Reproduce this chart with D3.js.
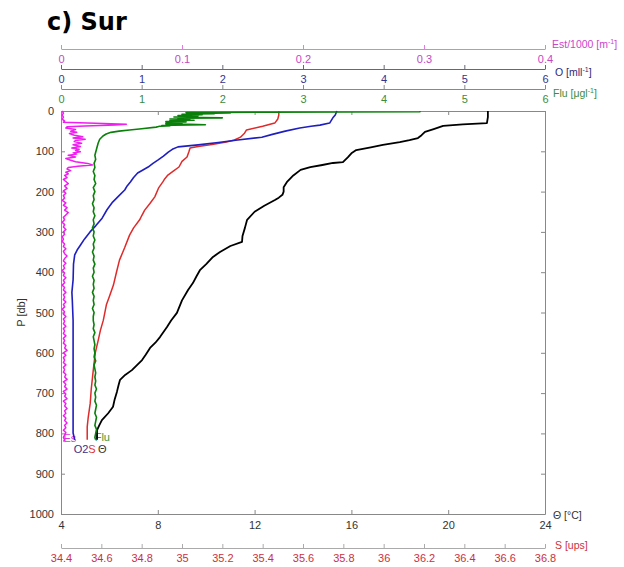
<!DOCTYPE html>
<html>
<head>
<meta charset="utf-8">
<script src="https://cdn.jsdelivr.net/npm/d3@7"></script>
<style>
  html, body { margin: 0; padding: 0; background: #fff; }
  svg { display: block; }
  text { font-family: "Liberation Sans", Arial, sans-serif; }
</style>
</head>
<body>
<svg id="chart" width="624" height="567"></svg>
<script>
// Profile c) Sur: potential temperature, salinity, oxygen, fluorescence and
// scattering (Est) against pressure, each on its own horizontal axis.

// ---- tick labels ----
const pTicks   = [0, 100, 200, 300, 400, 500, 600, 700, 800, 900, 1000];
const tTicks   = [4, 8, 12, 16, 20, 24];
const sTicks   = [34.4, 34.6, 34.8, 35, 35.2, 35.4, 35.6, 35.8, 36, 36.2, 36.4, 36.6, 36.8];
const oTicks   = [0, 1, 2, 3, 4, 5, 6];
const fluTicks = [0, 1, 2, 3, 4, 5, 6];
const estTicks = [0, 0.1, 0.2, 0.3, 0.4];

// ---- series: [pressure (db), value] ----
const theta = [
  [0,21.64],[15,21.64],[30,21.6],[33,20.6],[37,19.79],[45,19.4],[52,19.04],[60,18.9],
  [67,18.75],[72,18.4],[77,18.0],[84,17.3],[90,16.8],[97,16.2],[105,16.0],[115,15.85],
  [127,15.65],[129,15.24],[134,14.8],[139,14.3],[146,13.9],[160,13.6],[175,13.35],
  [189,13.2],[200,13.2],[208,13.15],[215,13.0],[221,12.84],[235,12.4],[250,12.0],
  [270,11.69],[290,11.6],[310,11.5],[325,11.48],[335,11.0],[350,10.57],[362,10.28],
  [380,10.0],[395,9.74],[410,9.6],[427,9.45],[444,9.25],[470,9.0],[501,8.79],[520,8.55],
  [536,8.38],[561,8.09],[575,7.9],[588,7.68],[605,7.5],[618,7.35],[630,7.15],[643,6.93],
  [655,6.65],[667,6.44],[680,6.38],[697,6.31],[715,6.22],[734,6.15],[750,5.95],
  [767,5.69],[780,5.58],[792,5.49],[816,5.49]
];

const salinity = [
  [0,35.48],[10,35.48],[20,35.475],[30,35.46],[38,35.40],[47,35.32],[55,35.31],[65,35.29],
  [72,35.26],[77,35.22],[81,35.17],[84,35.14],[88,35.08],[92,35.04],[100,35.035],
  [114,35.025],[125,35.0],[139,34.985],[150,34.955],[159,34.93],[168,34.915],[176,34.905],
  [190,34.885],[213,34.865],[230,34.84],[246,34.815],[260,34.80],[270,34.79],[290,34.76],
  [308,34.74],[340,34.715],[370,34.69],[400,34.675],[432,34.66],[460,34.64],[481,34.625],
  [519,34.61],[545,34.595],[568,34.585],[600,34.57],[643,34.56],[690,34.55],[725,34.545],
  [760,34.535],[784,34.53],[816,34.53]
];

const oxygen = [
  [0,3.42],[10,3.40],[17,3.37],[30,3.33],[35,3.21],[38,3.10],[42,2.96],[50,2.78],[58,2.62],
  [65,2.49],[72,2.19],[78,1.95],[84,1.70],[89,1.45],[95,1.38],[102,1.33],[112,1.27],
  [122,1.20],[130,1.14],[139,1.08],[147,1.01],[154,0.95],[165,0.90],[176,0.86],[186,0.82],
  [196,0.79],[210,0.72],[226,0.64],[245,0.57],[266,0.51],[285,0.43],[300,0.36],[318,0.29],
  [333,0.24],[345,0.20],[357,0.17],[380,0.155],[419,0.15],[450,0.135],[469,0.14],
  [520,0.15],[593,0.15],[650,0.15],[717,0.15],[760,0.15],[799,0.15],[816,0.17]
];

const fluor = [
  [0,4.45],[2,4.45],[3,2.6],[4,1.55],[5,2.1],[6,1.7],[7,1.9],[8,1.5],[9,1.75],[10,1.6],
  [11,1.45],[12,1.7],[13,1.5],[14,1.65],[15,1.4],[16,1.75],[17,2.0],[18,1.45],[19,1.6],
  [20,1.35],[21,1.55],[22,1.4],[23,1.65],[24,1.35],[25,1.5],[26,1.3],[27,1.55],[28,1.35],
  [29,1.45],[30,1.3],[31,1.5],[32,1.3],[33,1.6],[34,1.79],[35,1.4],[36,1.25],[37,1.35],
  [38,1.22],[39,1.2],[40,1.18],[44,1.0],[47,0.85],[50,0.72],[53,0.62],[57,0.56],[62,0.52],
  [70,0.48],[80,0.46],[95,0.44],[110,0.42],[120,0.43],[130,0.41],[140,0.42],[150,0.40],
  [160,0.42],[170,0.41],[180,0.43],[190,0.40],[200,0.42],[210,0.40],[220,0.41],[230,0.39],
  [240,0.41],[250,0.40],[260,0.42],[270,0.40],[280,0.41],[290,0.39],[300,0.41],[310,0.40],
  [320,0.42],[330,0.40],[340,0.41],[350,0.39],[360,0.41],[370,0.40],[380,0.42],[390,0.40],
  [400,0.41],[410,0.39],[420,0.41],[430,0.40],[440,0.41],[450,0.39],[460,0.41],[470,0.40],
  [480,0.41],[490,0.39],[500,0.41],[510,0.40],[520,0.40],[530,0.41],[540,0.40],[550,0.42],
  [560,0.40],[570,0.41],[580,0.42],[590,0.41],[600,0.42],[610,0.41],[620,0.43],[630,0.41],
  [640,0.42],[650,0.43],[660,0.42],[670,0.43],[680,0.42],[690,0.44],[700,0.42],[710,0.43],
  [720,0.42],[730,0.44],[740,0.43],[750,0.42],[760,0.44],[770,0.43],[780,0.42],[790,0.44],
  [800,0.43],[810,0.42],[816,0.43]
];

const est = [
  [0,0.001],[5,0.002],[10,0.001],[15,0.002],[20,0.001],[25,0.003],[28,0.002],[31,0.035],
  [33,0.054],[35,0.045],[37,0.02],[39,0.005],[42,0.004],[46,0.012],[50,0.008],[53,0.013],
  [56,0.007],[60,0.011],[64,0.018],[67,0.010],[70,0.020],[73,0.012],[76,0.011],[80,0.017],
  [84,0.010],[88,0.016],[92,0.009],[95,0.015],[98,0.012],[101,0.016],[104,0.010],
  [107,0.013],[110,0.006],[114,0.012],[118,0.004],[122,0.008],[126,0.012],[130,0.022],
  [134,0.026],[137,0.014],[140,0.006],[144,0.005],[148,0.008],[152,0.004],[156,0.006],
  [160,0.003],[165,0.005],[170,0.002],[175,0.004],[180,0.006],[186,0.003],[192,0.005],
  [198,0.002],[204,0.004],[210,0.002],[216,0.003],[222,0.001],[228,0.004],[234,0.002],
  [240,0.005],[246,0.003],[252,0.006],[258,0.004],[264,0.002],[270,0.003],[276,0.001],
  [282,0.003],[288,0.002],[294,0.004],[300,0.002],[306,0.003],[312,0.001],[318,0.002],
  [324,0.001],[330,0.003],[336,0.002],[342,0.004],[348,0.002],[354,0.003],[360,0.005],
  [366,0.003],[372,0.002],[378,0.004],[384,0.002],[390,0.003],[396,0.001],[402,0.003],
  [408,0.002],[414,0.004],[420,0.002],[426,0.003],[432,0.001],[438,0.003],[444,0.002],
  [450,0.004],[456,0.002],[462,0.003],[468,0.002],[474,0.004],[480,0.002],[486,0.003],
  [492,0.001],[498,0.003],[504,0.002],[510,0.004],[516,0.002],[522,0.003],[528,0.002],
  [534,0.004],[540,0.002],[546,0.003],[552,0.002],[558,0.004],[564,0.002],[570,0.003],
  [576,0.002],[582,0.004],[588,0.003],[594,0.005],[600,0.002],[606,0.004],[612,0.002],
  [618,0.003],[624,0.002],[630,0.004],[636,0.002],[642,0.003],[648,0.002],[654,0.004],
  [660,0.003],[666,0.005],[672,0.002],[678,0.004],[684,0.003],[690,0.005],[696,0.002],
  [702,0.004],[708,0.003],[714,0.005],[720,0.002],[726,0.004],[732,0.003],[738,0.005],
  [744,0.003],[750,0.004],[756,0.002],[762,0.004],[768,0.003],[774,0.005],[780,0.003],
  [786,0.004],[792,0.002],[798,0.004],[804,0.003],[810,0.002],[816,0.003],[820,0.002]
];

// ---- layout ----
const L = 61, R = 545, T = 111, B = 514;
const svg = d3.select("#chart");

const y    = d3.scaleLinear().domain([0, 1000]).range([T, B]);
const xT   = d3.scaleLinear().domain([4, 24]).range([L, R]);
const xS   = d3.scaleLinear().domain([34.4, 36.8]).range([L, R]);
const xO   = d3.scaleLinear().domain([0, 6]).range([L, R]);
const xF   = d3.scaleLinear().domain([0, 6]).range([L, R]);
const xE   = d3.scaleLinear().domain([0, 0.4]).range([L, R]);

const fmt = d3.format("~g");

// title
svg.append("text")
  .attr("x", 47).attr("y", 30)
  .style("font-family", "'DejaVu Sans', sans-serif")
  .style("font-weight", "bold")
  .style("font-size", "24px")
  .attr("fill", "#000")
  .text("c) Sur");

// styling helper for an axis group
function styleAxis(g, lineColor, textColor) {
  g.select(".domain").attr("stroke", lineColor).attr("stroke-width", 1);
  g.selectAll(".tick line").attr("stroke", lineColor);
  g.selectAll(".tick text").attr("fill", textColor).style("font-size", "11px")
    .style("font-family", "'Liberation Sans', Arial, sans-serif");
}

// stacked parameter axes (ticks up, labels below)
function sideAxis(scale, ticks, yPos, lineColor, textColor) {
  const g = svg.append("g").attr("transform", `translate(0,${yPos})`)
    .call(d3.axisBottom(scale).tickValues(ticks).tickFormat(fmt)
      .tickSizeInner(-4).tickSizeOuter(0).tickPadding(6));
  styleAxis(g, lineColor, textColor);
  return g;
}

sideAxis(xE, estTicks, 49, "#e07ee0", "#c447c4");
sideAxis(xO, oTicks, 69, "#666677", "#34348c");
sideAxis(xF, fluTicks, 89, "#888888", "#3c8c3c");
sideAxis(xS, sTicks, 548, "#aaaaaa", "#cc3040");

// axis titles with superscripts
function titleWithSup(xPos, yPos, color, pre, sup, post) {
  const t = svg.append("text").attr("x", xPos).attr("y", yPos)
    .attr("fill", color).style("font-size", "10.5px");
  t.append("tspan").text(pre);
  if (sup) {
    t.append("tspan").attr("dy", -4).style("font-size", "7px").text(sup);
    t.append("tspan").attr("dy", 4).text(post);
  }
  return t;
}
titleWithSup(552, 48, "#cc44cc", "Est/1000 [m", "-1", "]");
titleWithSup(555, 76, "#2a2a7a", "O [mll", "-1", "]");
titleWithSup(553, 97, "#3c8c3c", "Flu [μgl", "-1", "]");
titleWithSup(553, 519, "#333333", "Θ [°C]");
titleWithSup(555, 549, "#cc3040", "S [ups]");

// main frame axes, ticks pointing inward
const gL = svg.append("g").attr("transform", `translate(${L},0)`)
  .call(d3.axisLeft(y).tickValues(pTicks).tickFormat(fmt).tickSizeInner(-4).tickSizeOuter(0).tickPadding(7));
styleAxis(gL, "#888", "#333");
const gR = svg.append("g").attr("transform", `translate(${R},0)`)
  .call(d3.axisRight(y).tickValues(pTicks).tickFormat("").tickSizeInner(-4).tickSizeOuter(0));
styleAxis(gR, "#888", "#333");
const gB = svg.append("g").attr("transform", `translate(0,${B})`)
  .call(d3.axisBottom(xT).tickValues(tTicks).tickFormat(fmt).tickSizeInner(-4).tickSizeOuter(0).tickPadding(7));
styleAxis(gB, "#888", "#333");
const gT = svg.append("g").attr("transform", `translate(0,${T})`)
  .call(d3.axisTop(xT).tickValues(tTicks).tickFormat("").tickSizeInner(-4).tickSizeOuter(0));
styleAxis(gT, "#888", "#333");

// pressure label
svg.append("text")
  .attr("transform", `translate(25,${(T + B) / 2}) rotate(-90)`)
  .attr("text-anchor", "middle")
  .attr("fill", "#333")
  .style("font-size", "11px")
  .text("P [db]");

// end-of-profile labels
const labels = [
  { text: "Es",  color: "#dd33dd", x: xE(est[est.length - 1][1]),         y: y(est[est.length - 1][0]) + 1 },
  { text: "Flu", color: "#3a9a3a", x: xF(fluor[fluor.length - 1][1]) - 1, y: y(fluor[fluor.length - 1][0]) + 1 },
  { text: "O2",  color: "#34348c", x: xO(oxygen[oxygen.length - 1][1]) - 1, y: y(oxygen[oxygen.length - 1][0]) + 13 },
  { text: "S",   color: "#dd3333", x: xS(salinity[salinity.length - 1][1]) + 1, y: y(salinity[salinity.length - 1][0]) + 13 },
  { text: "Θ",   color: "#333333", x: xT(theta[theta.length - 1][1]) + 1,   y: y(theta[theta.length - 1][0]) + 13 }
];
svg.append("g").selectAll("text").data(labels).join("text")
  .attr("x", d => d.x).attr("y", d => d.y)
  .attr("fill", d => d.color)
  .style("font-size", "11px")
  .text(d => d.text);

// profiles
function profile(data, xs, color, w) {
  svg.append("path")
    .datum(data)
    .attr("fill", "none")
    .attr("stroke", color)
    .attr("stroke-width", w)
    .attr("stroke-linejoin", "round")
    .attr("d", d3.line().x(d => xs(d[1])).y(d => y(d[0])));
}

profile(est, xE, "#f01ef0", 1.5);
profile(theta, xT, "#000000", 1.8);
profile(salinity, xS, "#e02a2a", 1.5);
profile(oxygen, xO, "#1f1fc0", 1.6);
profile(fluor, xF, "#0a800a", 1.6);
</script>
</body>
</html>
